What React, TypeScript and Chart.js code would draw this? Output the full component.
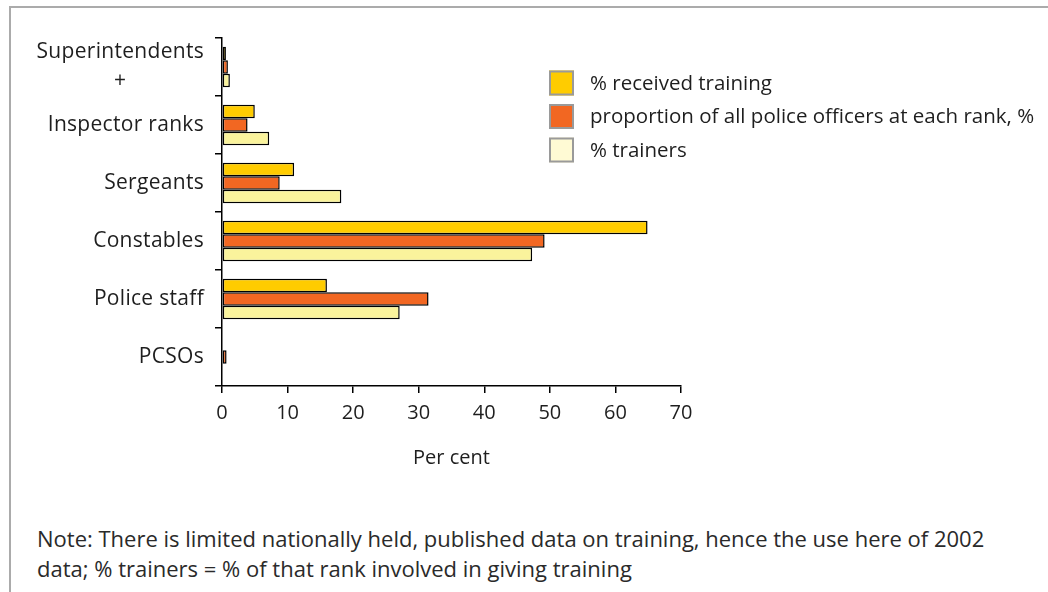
import React, { useEffect, useRef } from "react";
import { Chart, registerables } from "chart.js";

Chart.register(...registerables);

// ---- data ----
const categories: (string | string[])[] = [
  ["Superintendents", "+"],
  "Inspector ranks",
  "Sergeants",
  "Constables",
  "Police staff",
  "PCSOs",
];
const receivedTraining: (number | null)[] = [0.6, 5.0, 11.0, 64.9, 16.0, null];
const proportionOfOfficers: (number | null)[] = [0.9, 3.9, 8.8, 49.2, 31.5, 0.7];
const trainers: (number | null)[] = [1.2, 7.2, 18.2, 47.3, 27.1, null];
const seriesLabels = [
  "% received training",
  "proportion of all police officers at each rank, %",
  "% trainers",
];
const xTickValues = [0, 10, 20, 30, 40, 50, 60, 70];
const xTitle = "Per cent";
const noteLines = [
  "Note: There is limited nationally held, published data on training, hence the use here of 2002",
  "data; % trainers = % of that rank involved in giving training",
];

// ---- styles ----
const barColors = ["#FFCC00", "#F26722", "#FAF39C"];
const legendColors = ["#FFCC00", "#F26722", "#FFFAD4"];
const FONT = '"Open Sans", "DejaVu Sans", sans-serif';
const TEXT = "#1e1e1e";

const yLabelPlugin = {
  id: "yLabels",
  afterDraw(chart: any) {
    const ctx = chart.ctx as CanvasRenderingContext2D;
    const ys = chart.scales.y;
    ctx.save();
    ctx.font = `21px ${FONT}`;
    (ctx as any).letterSpacing = "0.3px";
    ctx.fillStyle = TEXT;
    ctx.textBaseline = "middle";
    ctx.textAlign = "center";
    const right = ys.right - 18;
    categories.forEach((lab, i) => {
      const lines = Array.isArray(lab) ? lab : [lab];
      const cy = ys.getPixelForValue(i);
      const w = Math.max(...lines.map((l) => ctx.measureText(l).width));
      const cx = right - w / 2;
      lines.forEach((l, j) => {
        ctx.fillText(l, cx, cy + (j - (lines.length - 1) / 2) * 29);
      });
    });
    ctx.restore();
  },
};

const legendPlugin = {
  id: "customLegend",
  afterDraw(chart: any) {
    const ctx = chart.ctx as CanvasRenderingContext2D;
    const boxX = 549;
    const box = 25;
    const firstY = 83;
    const gap = 33.5;
    ctx.save();
    ctx.font = `20.5px ${FONT}`;
    ctx.textBaseline = "middle";
    ctx.textAlign = "left";
    chart.data.datasets.forEach((ds: any, i: number) => {
      const cy = firstY + i * gap;
      ctx.fillStyle = legendColors[i];
      ctx.fillRect(boxX, cy - box / 2, box, box);
      ctx.strokeStyle = "#9a9a9a";
      ctx.lineWidth = 2;
      ctx.strokeRect(boxX + 1, cy - box / 2 + 1, box - 2, box - 2);
      ctx.fillStyle = TEXT;
      ctx.fillText(ds.label, 590, cy + 1);
    });
    ctx.restore();
  },
};

export default function App() {
  const ref = useRef<HTMLCanvasElement | null>(null);

  useEffect(() => {
    if (!ref.current) return;
    const series = [receivedTraining, proportionOfOfficers, trainers];
    const chart = new Chart(ref.current, {
      type: "bar",
      data: {
        labels: categories.map((c) => (Array.isArray(c) ? c.join(" ") : c)),
        datasets: series.map((d, i) => ({
          label: seriesLabels[i],
          data: d,
          backgroundColor: barColors[i],
          borderColor: "#000",
          borderWidth: 1.5,
          borderSkipped: false,
          categoryPercentage: 0.7,
          barPercentage: 1.0,
        })),
      },
      options: {
        indexAxis: "y",
        animation: false,
        responsive: false,
        devicePixelRatio: 1,
        layout: { padding: { left: 0, top: 38, right: 367, bottom: 0 } },
        plugins: {
          legend: { display: false },
          tooltip: { enabled: false },
        },
        scales: {
          x: {
            type: "linear",
            min: 0,
            max: 70,
            afterBuildTicks: (s: any) => {
              s.ticks = xTickValues.map((v) => ({ value: v }));
            },
            afterFit: (s: any) => {
              s.height = 94;
            },
            ticks: {
              font: { size: 20, family: FONT },
              color: TEXT,
              padding: 8,
            },
            grid: {
              display: true,
              drawOnChartArea: false,
              drawTicks: true,
              tickLength: 7,
              color: "#000",
              lineWidth: 1.5,
            },
            border: { display: true, color: "#000", width: 1.5 },
            title: {
              display: true,
              text: xTitle,
              font: { size: 20, family: FONT },
              color: TEXT,
              padding: { top: 0, bottom: 10 },
            },
          },
          y: {
            type: "category",
            afterFit: (s: any) => {
              s.width = 222;
            },
            ticks: { display: false },
            grid: {
              display: true,
              offset: true,
              drawOnChartArea: false,
              drawTicks: true,
              tickLength: 7,
              color: "#000",
              lineWidth: 1.5,
            },
            border: { display: true, color: "#000", width: 1.5 },
          },
        },
      },
      plugins: [yLabelPlugin, legendPlugin],
    } as any);
    return () => chart.destroy();
  }, []);

  return (
    <div
      style={{
        position: "absolute",
        left: 0,
        top: 0,
        width: 1048,
        height: 592,
        overflow: "hidden",
        background: "#fff",
      }}
    >
      <div
        style={{
          position: "absolute",
          left: 9,
          top: 6,
          width: 1200,
          height: 800,
          border: "2px solid #ababab",
        }}
      />
      <canvas
        ref={ref}
        width={1048}
        height={480}
        style={{ position: "absolute", left: 0, top: 0, width: 1048, height: 480 }}
      />
      <div
        style={{
          position: "absolute",
          left: 37,
          top: 523,
          fontFamily: FONT,
          fontSize: 22,
          lineHeight: "30px",
          color: "#2a2a2a",
          whiteSpace: "nowrap",
        }}
      >
        {noteLines[0]}
        <br />
        {noteLines[1]}
      </div>
    </div>
  );
}
